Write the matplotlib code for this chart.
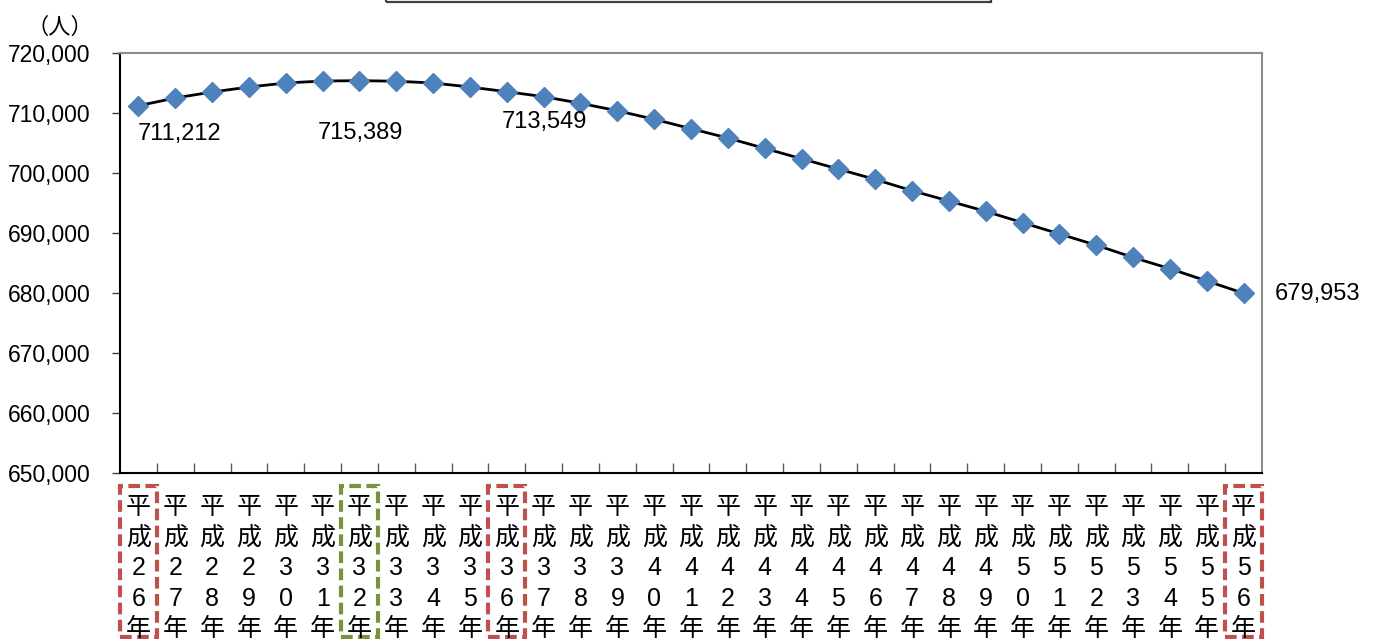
import matplotlib
matplotlib.use("Agg")
import matplotlib.pyplot as plt
import matplotlib.transforms as mtransforms
from matplotlib.patches import Rectangle
from matplotlib.ticker import FuncFormatter, MultipleLocator

plt.rcParams['font.family'] = ['Liberation Sans', 'Noto Sans CJK JP', 'DejaVu Sans']

# 平成26年〜平成56年の人口推計
years = list(range(26, 57))
population = [
    711212, 712500, 713500, 714330, 715000, 715330, 715389, 715300,
    715000, 714330, 713549, 712720, 711620, 710370, 708960, 707390,
    705830, 704100, 702380, 700660, 698930, 697050, 695330, 693610,
    691730, 689850, 687970, 685930, 684050, 682010, 679953,
]
labelled = [26, 32, 36, 56]
boxed_red = [26, 36, 56]
boxed_green = [32]

PX = 0.72  # points per pixel at 100 dpi

fig = plt.figure(figsize=(13.76, 6.39), dpi=100)
ax = fig.add_axes([120 / 1376, 1 - 473 / 639, 1142 / 1376, 420 / 639])

x = list(range(len(years)))
ax.plot(x, population, color='black', linewidth=2, zorder=2)
ax.plot(x, population, linestyle='none', marker='D', markersize=10,
        color='#4F81BD', markeredgecolor='#4F81BD', zorder=3)

ax.set_xlim(-0.5, len(years) - 0.5)
ax.set_ylim(650000, 720000)
ax.yaxis.set_major_locator(MultipleLocator(10000))
ax.yaxis.set_major_formatter(FuncFormatter(lambda v, p: f"{int(v):,}"))
ax.tick_params(axis='y', direction='out', length=6, width=1, labelsize=16.5,
               pad=15, color='#404040')
ax.set_xticks([i + 0.5 for i in range(len(years) - 1)])
ax.set_xticklabels([])
ax.tick_params(axis='x', direction='in', length=7, width=1, color='#595959')

for side in ('left', 'bottom'):
    ax.spines[side].set_color('black')
    ax.spines[side].set_linewidth(1.5)
for side in ('top', 'right'):
    ax.spines[side].set_color('#8C8C8C')
    ax.spines[side].set_linewidth(1.5)

# value labels: (dx px, dy px, ha, va)
offsets = {26: (-1, -17, 'left', 'top'), 32: (1, -41, 'center', 'top'),
           36: (-5, -19, 'left', 'top'), 56: (31, -1, 'left', 'center')}
for yr in labelled:
    i = years.index(yr)
    dx, dy, ha, va = offsets[yr]
    ax.annotate(f"{population[i]:,}", (i, population[i]),
                xytext=(dx * PX, dy * PX), textcoords='offset points',
                ha=ha, va=va, fontsize=17, annotation_clip=False)

# vertical category labels
trans = mtransforms.blended_transform_factory(ax.transData, fig.transFigure)
for i, yr in enumerate(years):
    chars = ['平', '成', str(yr)[0], str(yr)[1], '年']
    for k, ch in enumerate(chars):
        ax.text(i, 1 - (507 + 30.5 * k) / 639, ch, transform=trans,
                ha='center', va='center', fontsize=18, clip_on=False)

for yr in boxed_red + boxed_green:
    i = years.index(yr)
    color = '#C0504D' if yr in boxed_red else '#77933C'
    ax.add_patch(Rectangle((i - 0.5, 1 - 637 / 639), 1.0, (637 - 486) / 639,
                           transform=trans, fill=False, edgecolor=color,
                           linewidth=3, linestyle=(0, (2.8, 1.3)),
                           clip_on=False))

fig.text(60 / 1376, 1 - 27 / 639, '（人）', ha='center', va='center',
         fontsize=16, family=['Noto Sans CJK JP'])

# title frame, cut off at the top edge
fig.patches.append(Rectangle((386 / 1376, 1 - 2 / 639), 605 / 1376, 0.05,
                             transform=fig.transFigure, fill=False,
                             edgecolor='#404040', linewidth=1.6))

fig.savefig('out.png', dpi=100, facecolor='white')
